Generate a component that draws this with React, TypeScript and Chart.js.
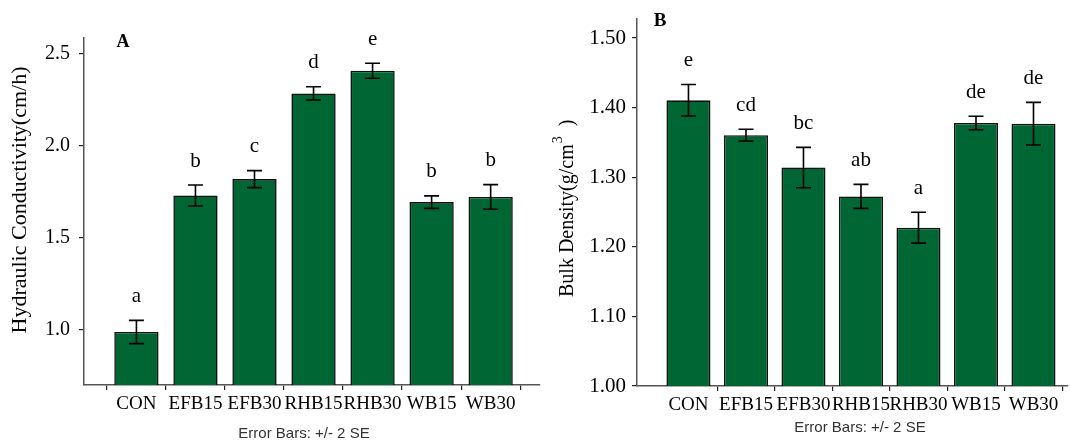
import React, { useEffect, useRef } from 'react';
import { Chart, registerables } from 'chart.js';

Chart.register(...registerables);

const categories = ['CON', 'EFB15', 'EFB30', 'RHB15', 'RHB30', 'WB15', 'WB30'];

const conductivity = [0.988, 1.73, 1.819, 2.285, 2.408, 1.694, 1.722];
const conductivityErr = [0.063, 0.057, 0.046, 0.036, 0.041, 0.034, 0.067];
const conductivityLetters = ['a', 'b', 'c', 'd', 'e', 'b', 'b'];

const density = [1.4106, 1.3605, 1.314, 1.2725, 1.2276, 1.378, 1.377];
const densityErr = [0.0226, 0.0085, 0.029, 0.0173, 0.0222, 0.0097, 0.0306];
const densityLetters = ['e', 'cd', 'bc', 'ab', 'a', 'de', 'de'];

const caption = 'Error Bars: +/- 2 SE';
const SERIF = '"Liberation Serif", "Times New Roman", serif';
const SANS = '"Liberation Sans", Arial, sans-serif';
const BAR_COLOR = '#006633';

type PanelCfg = {
  values: number[];
  errors: number[];
  letters: string[];
  yMin: number;
  yMax: number;
  yStep: number;
  decimals: number;
  xMin: number;
  xMax: number;
  yAxisWidth: number;
  xAxisHeight: number;
  padTop: number;
  padRight: number;
  yTickSize: number;
  yTickPad: number;
  barPct: number;
  hideFirstTick: boolean;
  decorate: (ctx: CanvasRenderingContext2D, chart: any) => void;
};

function buildConfig(p: PanelCfg): any {
  const annot = {
    id: 'annot',
    afterDatasetsDraw(chart: any) {
      const ctx: CanvasRenderingContext2D = chart.ctx;
      const x = chart.scales.x;
      const y = chart.scales.y;
      ctx.save();
      ctx.strokeStyle = '#000';
      ctx.lineWidth = 1.6;
      ctx.fillStyle = '#000';
      ctx.font = `21px ${SERIF}`;
      ctx.textAlign = 'center';
      ctx.textBaseline = 'middle';
      p.values.forEach((v, i) => {
        const px = x.getPixelForValue(i);
        const top = y.getPixelForValue(v + p.errors[i]);
        const bot = y.getPixelForValue(v - p.errors[i]);
        ctx.beginPath();
        ctx.moveTo(px, top);
        ctx.lineTo(px, bot);
        ctx.moveTo(px - 7.5, top);
        ctx.lineTo(px + 7.5, top);
        ctx.moveTo(px - 7.5, bot);
        ctx.lineTo(px + 7.5, bot);
        ctx.stroke();
        ctx.fillText(p.letters[i], px, top - 24);
      });
      ctx.restore();
      ctx.save();
      p.decorate(ctx, chart);
      ctx.restore();
    },
  };

  return {
    type: 'bar',
    data: {
      datasets: [
        {
          data: p.values.map((v, i) => ({ x: i, y: v })),
          backgroundColor: BAR_COLOR,
          borderColor: '#111',
          borderWidth: 1.6,
          barPercentage: p.barPct,
          categoryPercentage: 1,
        },
      ],
    },
    options: {
      animation: false,
      responsive: false,
      devicePixelRatio: 1,
      layout: { padding: { top: p.padTop, right: p.padRight, left: 0, bottom: 0 } },
      plugins: { legend: { display: false }, tooltip: { enabled: false } },
      scales: {
        x: {
          type: 'linear',
          min: p.xMin,
          max: p.xMax,
          offset: false,
          grid: {
            display: true,
            drawOnChartArea: false,
            drawTicks: true,
            tickLength: 5,
            lineWidth: 1.2,
            color: (c: any) => (p.hideFirstTick && c.tick && c.tick.value === 0 ? 'rgba(0,0,0,0)' : '#222'),
          },
          border: { display: true, color: '#555', width: 1.5 },
          ticks: {
            stepSize: 1,
            includeBounds: false,
            autoSkip: false,
            maxRotation: 0,
            minRotation: 0,
            padding: 3,
            color: '#000',
            font: { family: SERIF, size: 19 },
            callback: (v: any) => (categories[v] !== undefined ? categories[v] : ''),
          },
          afterFit: (s: any) => {
            s.height = p.xAxisHeight;
          },
        },
        y: {
          type: 'linear',
          min: p.yMin,
          max: p.yMax,
          grid: {
            display: true,
            drawOnChartArea: false,
            drawTicks: true,
            tickLength: 5,
            lineWidth: 1.2,
            color: '#222',
          },
          border: { display: true, color: '#555', width: 1.5 },
          ticks: {
            stepSize: p.yStep,
            includeBounds: false,
            padding: p.yTickPad,
            color: '#000',
            font: { family: SERIF, size: p.yTickSize },
            callback: (v: any) => Number(v).toFixed(p.decimals),
          },
          afterFit: (s: any) => {
            s.width = p.yAxisWidth;
          },
        },
      },
    },
    plugins: [annot],
  };
}

export default function App() {
  const leftRef = useRef<HTMLCanvasElement>(null);
  const rightRef = useRef<HTMLCanvasElement>(null);

  useEffect(() => {
    const left = new Chart(
      leftRef.current as HTMLCanvasElement,
      buildConfig({
        values: conductivity,
        errors: conductivityErr,
        letters: conductivityLetters,
        yMin: 0.7,
        yMax: 2.586,
        yStep: 0.5,
        decimals: 1,
        xMin: -0.888,
        xMax: 6.836,
        yAxisWidth: 84,
        xAxisHeight: 58,
        padTop: 38,
        padRight: 5,
        yTickSize: 20,
        yTickPad: 9,
        barPct: 0.75,
        hideFirstTick: false,
        decorate: (ctx) => {
          ctx.fillStyle = '#000';
          ctx.font = `bold 18px ${SERIF}`;
          ctx.textAlign = 'center';
          ctx.textBaseline = 'middle';
          ctx.fillText('A', 123, 42);
          ctx.font = `15px ${SANS}`;
          ctx.fillStyle = '#333';
          ctx.fillText(caption, 304, 434);
          ctx.save();
          ctx.translate(20, 200);
          ctx.rotate(-Math.PI / 2);
          ctx.fillStyle = '#000';
          ctx.font = `22px ${SERIF}`;
          ctx.fillText('Hydraulic Conductivity(cm/h)', 0, 0);
          ctx.restore();
        },
      })
    );
    const right = new Chart(
      rightRef.current as HTMLCanvasElement,
      buildConfig({
        values: density,
        errors: densityErr,
        letters: densityLetters,
        yMin: 1.0,
        yMax: 1.528,
        yStep: 0.1,
        decimals: 2,
        xMin: -0.895,
        xMax: 6.6,
        yAxisWidth: 92,
        xAxisHeight: 57,
        padTop: 15,
        padRight: 2,
        yTickSize: 21,
        yTickPad: 6,
        barPct: 0.766,
        hideFirstTick: true,
        decorate: (ctx) => {
          ctx.fillStyle = '#000';
          ctx.font = `bold 19px ${SERIF}`;
          ctx.textAlign = 'center';
          ctx.textBaseline = 'middle';
          ctx.fillText('B', 115, 21);
          ctx.font = `15px ${SANS}`;
          ctx.fillStyle = '#333';
          ctx.fillText(caption, 315, 428);
          ctx.save();
          ctx.translate(23, 297);
          ctx.rotate(-Math.PI / 2);
          ctx.fillStyle = '#000';
          ctx.textAlign = 'left';
          ctx.font = `20px ${SERIF}`;
          const main = 'Bulk Density(g/cm';
          ctx.fillText(main, 0, 0);
          const w = ctx.measureText(main).width;
          ctx.font = `14px ${SERIF}`;
          ctx.fillText('3', w + 1, -10);
          const w3 = ctx.measureText('3').width;
          ctx.font = `20px ${SERIF}`;
          ctx.fillText(')', w + 1 + w3 + 10, 0);
          ctx.restore();
        },
      })
    );
    return () => {
      left.destroy();
      right.destroy();
    };
  }, []);

  return (
    <div style={{ position: 'absolute', left: 0, top: 0, width: 1070, height: 443, background: '#fff' }}>
      <canvas
        ref={leftRef}
        width={545}
        height={443}
        style={{ position: 'absolute', left: 0, top: 0, width: 545, height: 443 }}
      />
      <canvas
        ref={rightRef}
        width={525}
        height={443}
        style={{ position: 'absolute', left: 545, top: 0, width: 525, height: 443 }}
      />
    </div>
  );
}
